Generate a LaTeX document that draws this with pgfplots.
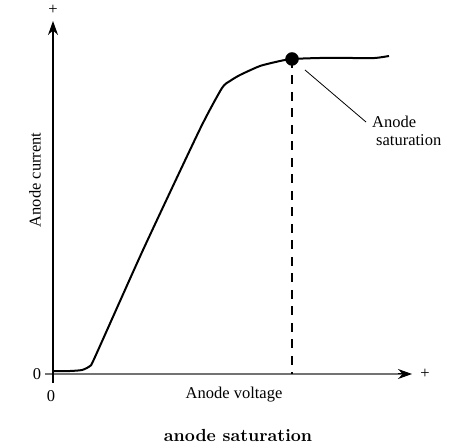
\documentclass[border=0pt]{standalone}
\usepackage{pgfplots}
\pgfplotsset{compat=1.18}
\usepackage{fontspec}
\setmainfont{Liberation Serif}
\newfontfamily\lmbf{lmroman10-bold}[Extension=.otf]
\usetikzlibrary{arrows.meta}
\begin{document}
\begin{tikzpicture}[font=\fontsize{16.5}{19}\selectfont]
\begin{axis}[x=1pt,y=1pt,xmin=-53,xmax=401,ymin=-72,ymax=374,
  axis lines=none,clip=false,ticks=none]
\path (axis cs:-53,-72) rectangle (axis cs:401,374);
% axes
\draw[black!55, line width=1.2pt] (axis cs:-8,0) -- (axis cs:350,0);
\draw[line width=1pt,-{Stealth[length=14pt,width=10pt]}] (axis cs:345,0) -- (axis cs:359,0);
\draw[line width=1.2pt,-{Stealth[length=14pt,width=10pt]}] (axis cs:0,-9) -- (axis cs:0,353);
% curve
\addplot[line width=2pt, smooth, tension=0.35] coordinates {
(0,3) (17,3) (29,4) (37,8) (42,17) (90,124) (147,245) (169,286)
(177,293) (187,299) (207,308) (227,313) (239,315) (267,316) (297,316) (322,316) (336,318)};
% saturation point
\addplot[dash pattern=on 9pt off 7.5pt, line width=1.2pt] coordinates {(239,315) (239,0)};
\addplot[only marks, mark=*, mark size=6.5pt, fill=black] coordinates {(239,315)};
\addplot[line width=0.8pt] coordinates {(252,304) (313,252)};
% labels
\node[anchor=west,inner sep=0pt] at (axis cs:319,252) {Anode};
\node[anchor=west,inner sep=0pt] at (axis cs:323,234) {saturation};
\node at (axis cs:-16,0) {0};
\node at (axis cs:-2,-22) {0};
\node at (axis cs:181,-21) {Anode voltage};
\node[rotate=90] at (axis cs:-18,194) {Anode current};
\node at (axis cs:0,364) {+};
\node at (axis cs:372,0) {+};
\node at (axis cs:185,-61) {\fontsize{17.5}{20}\lmbf anode saturation};
\end{axis}
\end{tikzpicture}
\end{document}
